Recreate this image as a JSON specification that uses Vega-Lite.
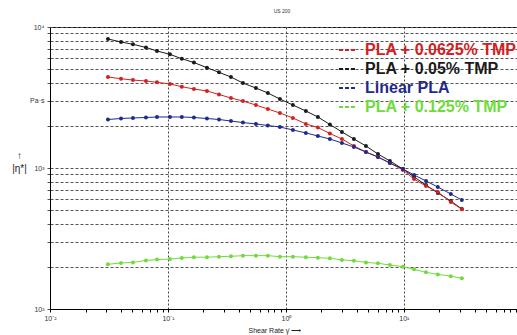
{
  "$schema": "https://vega.github.io/schema/vega-lite/v6.json",
  "width": 467,
  "height": 282,
  "autosize": {"type": "none"},
  "padding": {"left": 50, "top": 27, "right": 0, "bottom": 26},
  "background": "white",
  "view": {"stroke": "#000", "strokeWidth": 1},
  "title": {"text": "US 200", "fontSize": 5, "font": "Liberation Sans", "color": "#333", "anchor": "start", "dx": 262, "offset": 9, "fontWeight": "normal"},
  "datasets": {
    "rows": [
      {"x": 0.031, "eta": 8222, "s": "PLA + 0.05% TMP"},
      {"x": 0.040, "eta": 7830, "s": "PLA + 0.05% TMP"},
      {"x": 0.0505, "eta": 7540, "s": "PLA + 0.05% TMP"},
      {"x": 0.0651, "eta": 7160, "s": "PLA + 0.05% TMP"},
      {"x": 0.0807, "eta": 6760, "s": "PLA + 0.05% TMP"},
      {"x": 0.104, "eta": 6400, "s": "PLA + 0.05% TMP"},
      {"x": 0.131, "eta": 5955, "s": "PLA + 0.05% TMP"},
      {"x": 0.166, "eta": 5597, "s": "PLA + 0.05% TMP"},
      {"x": 0.214, "eta": 5143, "s": "PLA + 0.05% TMP"},
      {"x": 0.271, "eta": 4770, "s": "PLA + 0.05% TMP"},
      {"x": 0.342, "eta": 4418, "s": "PLA + 0.05% TMP"},
      {"x": 0.432, "eta": 4006, "s": "PLA + 0.05% TMP"},
      {"x": 0.557, "eta": 3690, "s": "PLA + 0.05% TMP"},
      {"x": 0.703, "eta": 3403, "s": "PLA + 0.05% TMP"},
      {"x": 0.889, "eta": 3085, "s": "PLA + 0.05% TMP"},
      {"x": 1.146, "eta": 2797, "s": "PLA + 0.05% TMP"},
      {"x": 1.476, "eta": 2536, "s": "PLA + 0.05% TMP"},
      {"x": 1.866, "eta": 2300, "s": "PLA + 0.05% TMP"},
      {"x": 2.359, "eta": 2036, "s": "PLA + 0.05% TMP"},
      {"x": 2.984, "eta": 1801, "s": "PLA + 0.05% TMP"},
      {"x": 3.77, "eta": 1606, "s": "PLA + 0.05% TMP"},
      {"x": 4.77, "eta": 1433, "s": "PLA + 0.05% TMP"},
      {"x": 6.03, "eta": 1257, "s": "PLA + 0.05% TMP"},
      {"x": 7.61, "eta": 1122, "s": "PLA + 0.05% TMP"},
      {"x": 9.81, "eta": 984, "s": "PLA + 0.05% TMP"},
      {"x": 12.2, "eta": 864, "s": "PLA + 0.05% TMP"},
      {"x": 15.4, "eta": 757, "s": "PLA + 0.05% TMP"},
      {"x": 19.4, "eta": 665, "s": "PLA + 0.05% TMP"},
      {"x": 25.0, "eta": 583, "s": "PLA + 0.05% TMP"},
      {"x": 31.0, "eta": 512, "s": "PLA + 0.05% TMP"},

      {"x": 0.031, "eta": 4420, "s": "PLA + 0.0625% TMP"},
      {"x": 0.040, "eta": 4295, "s": "PLA + 0.0625% TMP"},
      {"x": 0.0505, "eta": 4206, "s": "PLA + 0.0625% TMP"},
      {"x": 0.0651, "eta": 4139, "s": "PLA + 0.0625% TMP"},
      {"x": 0.0807, "eta": 4053, "s": "PLA + 0.0625% TMP"},
      {"x": 0.104, "eta": 3945, "s": "PLA + 0.0625% TMP"},
      {"x": 0.131, "eta": 3774, "s": "PLA + 0.0625% TMP"},
      {"x": 0.166, "eta": 3632, "s": "PLA + 0.0625% TMP"},
      {"x": 0.214, "eta": 3517, "s": "PLA + 0.0625% TMP"},
      {"x": 0.271, "eta": 3322, "s": "PLA + 0.0625% TMP"},
      {"x": 0.342, "eta": 3136, "s": "PLA + 0.0625% TMP"},
      {"x": 0.432, "eta": 2985, "s": "PLA + 0.0625% TMP"},
      {"x": 0.557, "eta": 2797, "s": "PLA + 0.0625% TMP"},
      {"x": 0.703, "eta": 2620, "s": "PLA + 0.0625% TMP"},
      {"x": 0.889, "eta": 2455, "s": "PLA + 0.0625% TMP"},
      {"x": 1.146, "eta": 2264, "s": "PLA + 0.0625% TMP"},
      {"x": 1.476, "eta": 2053, "s": "PLA + 0.0625% TMP"},
      {"x": 1.866, "eta": 1937, "s": "PLA + 0.0625% TMP"},
      {"x": 2.359, "eta": 1757, "s": "PLA + 0.0625% TMP"},
      {"x": 2.984, "eta": 1606, "s": "PLA + 0.0625% TMP"},
      {"x": 3.77, "eta": 1433, "s": "PLA + 0.0625% TMP"},
      {"x": 4.77, "eta": 1298, "s": "PLA + 0.0625% TMP"},
      {"x": 6.03, "eta": 1197, "s": "PLA + 0.0625% TMP"},
      {"x": 7.61, "eta": 1085, "s": "PLA + 0.0625% TMP"},
      {"x": 9.81, "eta": 968, "s": "PLA + 0.0625% TMP"},
      {"x": 12.2, "eta": 835, "s": "PLA + 0.0625% TMP"},
      {"x": 15.4, "eta": 745, "s": "PLA + 0.0625% TMP"},
      {"x": 19.4, "eta": 676, "s": "PLA + 0.0625% TMP"},
      {"x": 25.0, "eta": 574, "s": "PLA + 0.0625% TMP"},
      {"x": 31.0, "eta": 510, "s": "PLA + 0.0625% TMP"},

      {"x": 0.031, "eta": 2208, "s": "Linear PLA"},
      {"x": 0.040, "eta": 2244, "s": "Linear PLA"},
      {"x": 0.0505, "eta": 2264, "s": "Linear PLA"},
      {"x": 0.0651, "eta": 2281, "s": "Linear PLA"},
      {"x": 0.0807, "eta": 2300, "s": "Linear PLA"},
      {"x": 0.104, "eta": 2300, "s": "Linear PLA"},
      {"x": 0.131, "eta": 2300, "s": "Linear PLA"},
      {"x": 0.166, "eta": 2281, "s": "Linear PLA"},
      {"x": 0.214, "eta": 2244, "s": "Linear PLA"},
      {"x": 0.271, "eta": 2208, "s": "Linear PLA"},
      {"x": 0.342, "eta": 2153, "s": "Linear PLA"},
      {"x": 0.432, "eta": 2101, "s": "Linear PLA"},
      {"x": 0.557, "eta": 2053, "s": "Linear PLA"},
      {"x": 0.703, "eta": 2002, "s": "Linear PLA"},
      {"x": 0.889, "eta": 1953, "s": "Linear PLA"},
      {"x": 1.146, "eta": 1861, "s": "Linear PLA"},
      {"x": 1.476, "eta": 1772, "s": "Linear PLA"},
      {"x": 1.866, "eta": 1687, "s": "Linear PLA"},
      {"x": 2.359, "eta": 1606, "s": "Linear PLA"},
      {"x": 2.984, "eta": 1504, "s": "Linear PLA"},
      {"x": 3.77, "eta": 1410, "s": "Linear PLA"},
      {"x": 4.77, "eta": 1298, "s": "Linear PLA"},
      {"x": 6.03, "eta": 1197, "s": "Linear PLA"},
      {"x": 7.61, "eta": 1085, "s": "Linear PLA"},
      {"x": 9.81, "eta": 984, "s": "Linear PLA"},
      {"x": 12.2, "eta": 892, "s": "Linear PLA"},
      {"x": 15.4, "eta": 809, "s": "Linear PLA"},
      {"x": 19.4, "eta": 733, "s": "Linear PLA"},
      {"x": 25.0, "eta": 654, "s": "Linear PLA"},
      {"x": 31.0, "eta": 593, "s": "Linear PLA"},

      {"x": 0.031, "eta": 207.5, "s": "PLA + 0.125% TMP"},
      {"x": 0.040, "eta": 212, "s": "PLA + 0.125% TMP"},
      {"x": 0.0505, "eta": 214, "s": "PLA + 0.125% TMP"},
      {"x": 0.0651, "eta": 221, "s": "PLA + 0.125% TMP"},
      {"x": 0.0807, "eta": 224, "s": "PLA + 0.125% TMP"},
      {"x": 0.104, "eta": 226, "s": "PLA + 0.125% TMP"},
      {"x": 0.131, "eta": 230, "s": "PLA + 0.125% TMP"},
      {"x": 0.166, "eta": 233, "s": "PLA + 0.125% TMP"},
      {"x": 0.214, "eta": 233, "s": "PLA + 0.125% TMP"},
      {"x": 0.271, "eta": 235, "s": "PLA + 0.125% TMP"},
      {"x": 0.342, "eta": 236.5, "s": "PLA + 0.125% TMP"},
      {"x": 0.432, "eta": 239, "s": "PLA + 0.125% TMP"},
      {"x": 0.557, "eta": 239, "s": "PLA + 0.125% TMP"},
      {"x": 0.703, "eta": 239, "s": "PLA + 0.125% TMP"},
      {"x": 0.889, "eta": 235, "s": "PLA + 0.125% TMP"},
      {"x": 1.146, "eta": 235, "s": "PLA + 0.125% TMP"},
      {"x": 1.476, "eta": 233, "s": "PLA + 0.125% TMP"},
      {"x": 1.866, "eta": 231, "s": "PLA + 0.125% TMP"},
      {"x": 2.359, "eta": 229, "s": "PLA + 0.125% TMP"},
      {"x": 2.984, "eta": 223, "s": "PLA + 0.125% TMP"},
      {"x": 3.77, "eta": 220, "s": "PLA + 0.125% TMP"},
      {"x": 4.77, "eta": 214, "s": "PLA + 0.125% TMP"},
      {"x": 6.03, "eta": 211, "s": "PLA + 0.125% TMP"},
      {"x": 7.61, "eta": 205, "s": "PLA + 0.125% TMP"},
      {"x": 9.81, "eta": 199.5, "s": "PLA + 0.125% TMP"},
      {"x": 12.2, "eta": 191, "s": "PLA + 0.125% TMP"},
      {"x": 15.4, "eta": 182, "s": "PLA + 0.125% TMP"},
      {"x": 19.4, "eta": 176, "s": "PLA + 0.125% TMP"},
      {"x": 25.0, "eta": 171, "s": "PLA + 0.125% TMP"},
      {"x": 31.0, "eta": 165, "s": "PLA + 0.125% TMP"}
    ]
  },
  "data": {"name": "rows"},
  "mark": {"type": "line", "strokeWidth": 1, "point": {"filled": true, "size": 16}},
  "encoding": {
    "x": {
      "field": "x", "type": "quantitative",
      "scale": {"type": "log", "domain": [0.01, 91], "nice": false},
      "axis": {
        "values": [0.01,0.02,0.03,0.04,0.05,0.06,0.07,0.08,0.09,0.1,0.2,0.3,0.4,0.5,0.6,0.7,0.8,0.9,1,2,3,4,5,6,7,8,9,10,20,30,40,50,60,70,80,90],
        "labelExpr": "datum.value == 0.01 ? '10⁻²' : datum.value == 0.1 ? '10⁻¹' : datum.value == 1 ? '10⁰' : datum.value == 10 ? '10¹' : ''",
        "grid": true,
        "gridOpacity": {"condition": {"test": "datum.value == 0.1 || datum.value == 1 || datum.value == 10", "value": 1}, "value": 0},
        "gridDash": [2, 2],
        "gridColor": "#444",
        "gridWidth": 1,
        "domainColor": "#000",
        "tickColor": "#000",
        "tickSize": 3,
        "labelFontSize": 7,
        "labelFont": "Liberation Sans",
        "labelColor": "#333",
        "labelPadding": 2,
        "labelFlush": false,
        "title": "Shear Rate  γ̇          ⟶",
        "titleFontSize": 7,
        "titleFont": "Liberation Sans",
        "titleFontWeight": "normal",
        "titleColor": "#222",
        "titleAnchor": "start",
        "titleX": 198,
        "titlePadding": 5
      }
    },
    "y": {
      "field": "eta", "type": "quantitative",
      "scale": {"type": "log", "domain": [100, 10000], "nice": false},
      "axis": {
        "values": [100,200,300,400,500,600,700,800,900,1000,2000,3000,4000,5000,6000,7000,8000,9000,10000],
        "labelExpr": "datum.value == 100 ? '10²' : datum.value == 1000 ? '10³' : datum.value == 10000 ? '10⁴' : datum.value == 3000 ? 'Pa·s' : ''",
        "grid": true,
        "gridDash": [3, 2],
        "gridColor": "#555",
        "gridWidth": 1,
        "domainColor": "#000",
        "tickColor": "#555",
        "tickSize": 3,
        "labelFontSize": 7,
        "labelFont": "Liberation Sans",
        "labelColor": "#333",
        "labelPadding": 3,
        "title": ["↑", "|η*|"],
        "titleFontSize": 10,
        "titleFont": "Liberation Sans",
        "titleFontWeight": "normal",
        "titleColor": "#222",
        "titleAngle": 0,
        "titleAlign": "center",
        "titleX": -31,
        "titleY": 133,
        "titleLineHeight": 13
      }
    },
    "color": {
      "field": "s", "type": "nominal",
      "scale": {
        "domain": ["PLA + 0.0625% TMP", "PLA + 0.05% TMP", "Linear PLA", "PLA + 0.125% TMP"],
        "range": ["#d42020", "#1a1a1a", "#1f2a8c", "#6fdc3c"]
      },
      "legend": {
        "title": null,
        "orient": "none",
        "legendX": 288,
        "legendY": 13,
        "symbolType": "stroke",
        "symbolDash": [4, 2],
        "symbolStrokeWidth": 2,
        "symbolSize": 324,
        "labelFontSize": 16,
        "labelFont": "Liberation Sans",
        "labelFontWeight": "bold",
        "labelOffset": 7,
        "rowPadding": 1,
        "labelLimit": 300,
        "encode": {"labels": {"update": {"fill": {"signal": "scale('color', datum.value)"}}}}
      }
    }
  }
}
